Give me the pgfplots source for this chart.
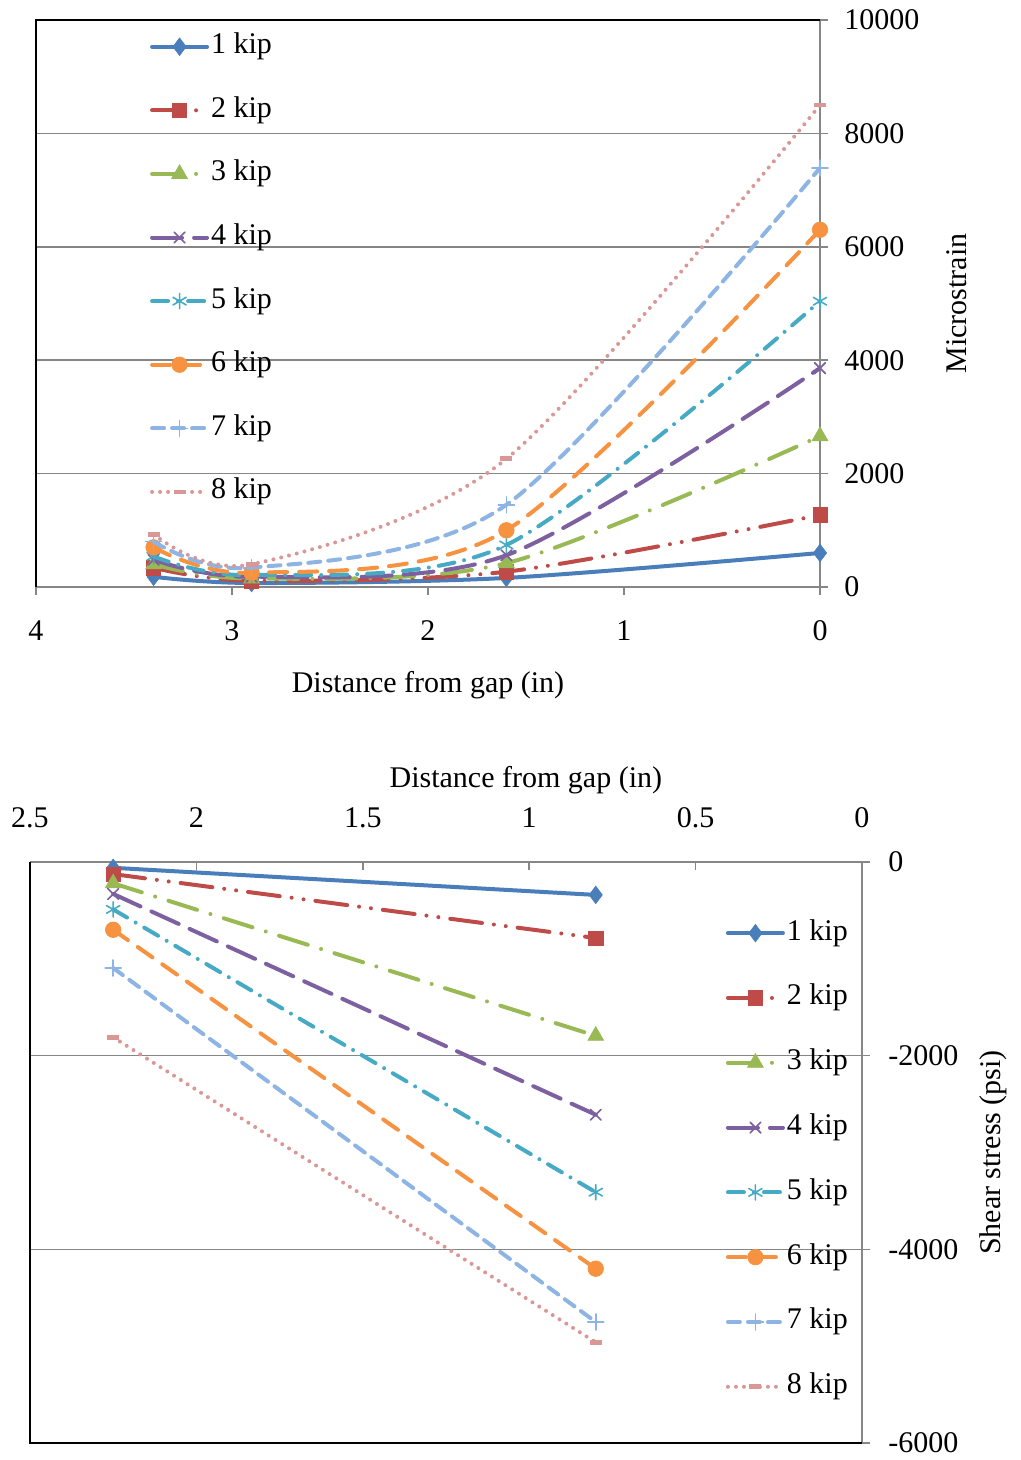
\documentclass[border=0pt]{standalone}
\usepackage{fontspec}
\setmainfont{Liberation Serif}
\usepackage{pgfplots}
\pgfplotsset{compat=1.18}
\definecolor{c1}{HTML}{4A7EBB}
\definecolor{c2}{HTML}{BE4B48}
\definecolor{c3}{HTML}{98B954}
\definecolor{c4}{HTML}{7D60A0}
\definecolor{c5}{HTML}{46AAC5}
\definecolor{c6}{HTML}{F69240}
\definecolor{c7}{HTML}{8EB4E3}
\definecolor{c8}{HTML}{D99795}
\definecolor{axgray}{HTML}{868686}
\pgfplotsset{
  s1/.style={c1, solid, line width=2pt, line cap=round, mark=diamond*, mark size=4.4pt, mark options={solid, fill=c1, line width=0.3pt}},
  s2/.style={c2, line width=2pt, line cap=round, dash pattern=on 16pt off 6pt on 0pt off 6pt on 0pt off 6pt, mark=square*, mark size=3.6pt, mark options={solid, fill=c2, line width=0.3pt}},
  s3/.style={c3, line width=2pt, line cap=round, dash pattern=on 15pt off 7pt on 0pt off 7pt, mark=triangle*, mark size=4.6pt, mark options={solid, fill=c3, line width=0.3pt}},
  s4/.style={c4, line width=2pt, line cap=round, dash pattern=on 15pt off 6pt, mark=x, mark size=3.8pt, mark options={solid, line width=0.8pt}},
  s5/.style={c5, line width=2pt, line cap=round, dash pattern=on 8pt off 5pt on 0pt off 5pt, mark=asterisk, mark size=3.8pt, mark options={solid, line width=0.8pt}},
  s6/.style={c6, line width=2pt, line cap=round, dash pattern=on 9pt off 6pt, mark=*, mark size=3.9pt, mark options={solid, fill=c6, line width=0.3pt}},
  s7/.style={c7, line width=2pt, line cap=round, dash pattern=on 6pt off 4pt, mark=+, mark size=4pt, mark options={solid, line width=0.8pt}},
  s8/.style={c8, line width=2pt, line cap=round, dash pattern=on 0pt off 4pt, mark=-, mark size=3pt, mark options={solid, line width=2.4pt, line cap=butt}},
  common/.style={
    scale only axis,
    clip mode=individual,
    scaled x ticks=false, scaled y ticks=false,
    axis line style={axgray, line width=0.75pt},
    tick style={axgray, line width=0.75pt},
    major tick length=4pt,
    ymajorgrids,
    grid style={axgray, line width=0.75pt},
    legend cell align=left,
    legend image code/.code={\draw[mark repeat=2,mark phase=2,##1] plot coordinates {(0pt,0pt) (13.75pt,0pt) (27.5pt,0pt)};},
  },
}
\begin{document}
\fontsize{15}{18}\selectfont
\begin{tikzpicture}
\useasboundingbox (0,0) rectangle (510.5pt,730pt);
% ---------- top chart ----------
\begin{axis}[common,
  at={(18pt,436.5pt)}, anchor=south west,
  width=392pt, height=283.5pt,
  x dir=reverse, xmin=0, xmax=4, ymin=0, ymax=10000,
  axis x line*=bottom, axis y line*=right,
  xtick={0,1,2,3,4}, xticklabels={0,1,2,3,4},
  ytick={0,2000,4000,6000,8000,10000}, yticklabels={0,2000,4000,6000,8000,10000},
  tick align=outside,
  xticklabel style={anchor=base, inner sep=0pt, yshift=-23pt},
  yticklabel style={anchor=west, inner sep=0pt, xshift=8pt},
  xlabel={Distance from gap (in)},
  xlabel style={at={(rel axis cs:0.5,0)}, anchor=center, yshift=-49pt},
  ylabel={Microstrain},
  ylabel style={at={(rel axis cs:1,0.5)}, anchor=center, yshift=-68.5pt},
  legend style={draw=none, fill=none, at={(rel axis cs:0.145,0.98)}, anchor=north west,
    inner sep=0pt, row sep=16.8pt, column sep=1pt,
    nodes={inner sep=0pt, text height=11pt, text depth=4pt}},
]
\addplot[s1, smooth] coordinates {(3.4,180) (2.9,70) (1.6,160) (0,600)};
\addplot[s2, smooth] coordinates {(3.4,340) (2.9,110) (1.6,270) (0,1270)};
\addplot[s3, smooth] coordinates {(3.4,400) (2.9,150) (1.6,420) (0,2660)};
\addplot[s4, smooth] coordinates {(3.4,480) (2.9,180) (1.6,560) (0,3860)};
\addplot[s5, smooth] coordinates {(3.4,540) (2.9,210) (1.6,740) (0,5040)};
\addplot[s6, smooth] coordinates {(3.4,700) (2.9,250) (1.6,1000) (0,6300)};
\addplot[s7, smooth] coordinates {(3.4,800) (2.9,340) (1.6,1450) (0,7390)};
\addplot[s8, smooth] coordinates {(3.4,930) (2.9,400) (1.6,2260) (0,8500)};
\legend{1 kip,2 kip,3 kip,4 kip,5 kip,6 kip,7 kip,8 kip}
\draw[black, line width=1pt] (rel axis cs:0,0) -- (rel axis cs:0,1) -- (rel axis cs:1,1);
\end{axis}
% ---------- bottom chart ----------
\begin{axis}[common,
  at={(15pt,8.5pt)}, anchor=south west,
  width=416pt, height=290.5pt,
  x dir=reverse, xmin=0, xmax=2.5, ymin=-6000, ymax=0,
  axis x line*=top, axis y line*=right,
  xtick={0,0.5,1,1.5,2,2.5}, xticklabels={0,0.5,1,1.5,2,2.5},
  ytick={-6000,-4000,-2000,0}, yticklabels={-6000,-4000,-2000,0},
  x tick style={/pgfplots/tick align=inside},
  ytick align=outside,
  xticklabel style={anchor=base, inner sep=0pt, yshift=17pt},
  yticklabel style={anchor=west, inner sep=0pt, xshift=9pt},
  xlabel={Distance from gap (in)},
  xlabel style={at={(rel axis cs:0.596,1)}, anchor=center, yshift=41pt},
  ylabel={Shear stress (psi)},
  ylabel style={at={(rel axis cs:1,0.5)}, anchor=center, yshift=-65.5pt},
  legend style={draw=none, fill=none, at={(rel axis cs:0.836,0.904)}, anchor=north west,
    inner sep=0pt, row sep=17.4pt, column sep=1pt,
    nodes={inner sep=0pt, text height=11pt, text depth=4pt}},
]
\addplot[s1] coordinates {(2.25,-60) (0.8,-340)};
\addplot[s2] coordinates {(2.25,-125) (0.8,-785)};
\addplot[s3] coordinates {(2.25,-220) (0.8,-1795)};
\addplot[s4] coordinates {(2.25,-330) (0.8,-2610)};
\addplot[s5] coordinates {(2.25,-490) (0.8,-3410)};
\addplot[s6] coordinates {(2.25,-700) (0.8,-4200)};
\addplot[s7] coordinates {(2.25,-1095) (0.8,-4750)};
\addplot[s8] coordinates {(2.25,-1810) (0.8,-4960)};
\legend{1 kip,2 kip,3 kip,4 kip,5 kip,6 kip,7 kip,8 kip}
\draw[black, line width=1pt] (rel axis cs:0,1) -- (rel axis cs:0,0) -- (rel axis cs:1,0);
\end{axis}
\end{tikzpicture}
\end{document}
